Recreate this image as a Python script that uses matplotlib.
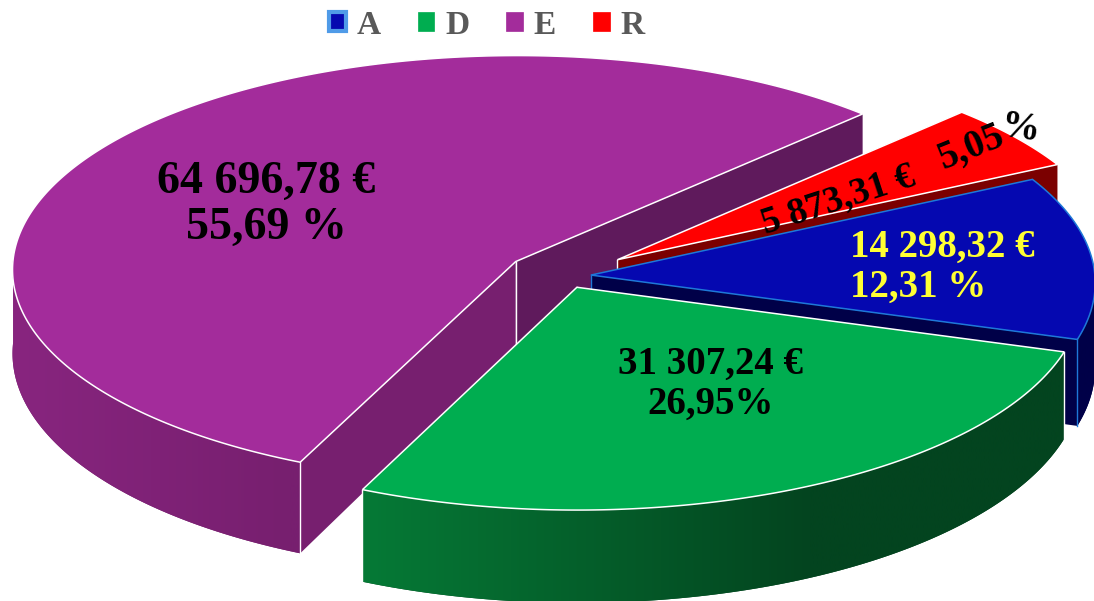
import numpy as np
import matplotlib
matplotlib.use("Agg")
import matplotlib.pyplot as plt
from matplotlib.colors import to_rgb
from matplotlib.patches import Patch, Polygon

categories = ["A", "D", "E", "R"]
amounts = [14298.32, 31307.24, 64696.78, 5873.31]
explode_px = [26, 29, 60, 65]
top_colors = ["#0508B0", "#00AD50", "#A32C9B", "#FF0000"]
first_wall = ["#000048", "#03441F", "#771F6F", "#7B0000"]
last_wall = ["#000048", "#03441F", "#5F1A5C", "#7B0000"]
side_left = ["#000048", "#067A36", "#88257F", "#7B0000"]
side_right = ["#000048", "#03441F", "#771F6F", "#7B0000"]
side_span = [(0, 1094), (360, 810), (12, 290), (0, 1094)]
edge_colors = ["#1E78D8", "#FFFFFF", "#FFFFFF", "#FFFFFF"]
# which rim corners get a bright vertical line (first, last)
corner_lines = [(False, True), (True, True), (True, False), (False, False)]

plt.rcParams["font.family"] = ["Liberation Serif", "DejaVu Sans"]
plt.rcParams["font.weight"] = "bold"

# pie geometry on the page, pixels
cx, cy = 565, 276
f = 504
squash = 0.425
persp = 0.035
depth = 84
start = 27.0


def project(u, v):
    w = 1 + persp * v
    return cx + f * u / w, cy - f * squash * v / w


def thick(v):
    return depth * (1 - 0.1 * v)


fig = plt.figure(figsize=(10.94, 6.01), dpi=100)
ax = fig.add_axes([0, 0, 1, 1])

fracs = np.array(amounts) / sum(amounts)
ends = start - np.cumsum(fracs) * 360
starts = np.r_[start, ends[:-1]]

# back slice first, green last
for i in [2, 3, 0, 1]:
    th = np.radians(np.linspace(starts[i], ends[i], 300))
    mid = np.radians((starts[i] + ends[i]) / 2)
    ou = explode_px[i] / f * np.cos(mid)
    ov = explode_px[i] / f * np.sin(mid)
    vx, vy = project(ou, ov)
    vd = thick(ov)
    rv = ov + np.sin(th)
    rx, ry = project(ou + np.cos(th), rv)
    rd = thick(rv)

    # radial walls
    for k, col in [(-1, last_wall[i]), (0, first_wall[i])]:
        ax.fill([vx, rx[k], rx[k], vx], [vy, ry[k], ry[k] + rd[k], vy + vd],
                color=col, lw=0, zorder=1)
    ax.plot([vx, vx], [vy, vy + vd], color=edge_colors[i], lw=1, zorder=1)

    # outer rim, only the front half of the circle shows
    front = np.sin(th) < 0.02
    if front.any():
        fx, fy, fd = rx[front], ry[front], rd[front]
        rim = Polygon(np.c_[np.r_[fx, fx[::-1]], np.r_[fy, (fy + fd)[::-1]]],
                      facecolor=side_right[i], lw=0, zorder=1)
        ax.add_patch(rim)
        x0, x1 = side_span[i]
        lo = min(x0, fx.min())
        hi = max(x1, fx.max())
        xs = np.linspace(lo, hi, 256)
        t = np.clip((xs - x0) / (x1 - x0), 0, 1)[:, None]
        shade = (1 - t) * np.array(to_rgb(side_left[i])) + t * np.array(to_rgb(side_right[i]))
        im = ax.imshow(shade[None, :, :], extent=[lo, hi, 610, 0], aspect="auto",
                       interpolation="bilinear", zorder=1)
        im.set_clip_path(rim)

    if corner_lines[i][0]:
        ax.plot([rx[0], rx[0]], [ry[0], ry[0] + rd[0]], color=edge_colors[i], lw=1, zorder=1)
    if corner_lines[i][1]:
        ax.plot([rx[-1], rx[-1]], [ry[-1], ry[-1] + rd[-1]], color=edge_colors[i], lw=1, zorder=1)

    ax.fill(np.r_[vx, rx], np.r_[vy, ry], facecolor=top_colors[i],
            edgecolor=edge_colors[i], lw=1.1, joinstyle="miter", zorder=1)

ax.set_xlim(0, 1094)
ax.set_ylim(601, 0)
ax.axis("off")

ax.text(266, 205, "64 696,78 €\n55,69 %", fontsize=33, color="black", ha="center", va="center",
        linespacing=1.1, zorder=5)
ax.text(711, 384, "31 307,24 €\n26,95%", fontsize=28, color="black", ha="center", va="center",
        linespacing=1.1, zorder=5)
ax.text(850, 267, "14 298,32 €\n12,31 %", fontsize=28, color="#FFFF33", ha="left", va="center",
        linespacing=1.1, zorder=5)
ax.text(838, 200, "5 873,31 €", fontsize=27, color="black", rotation=18, ha="center", va="center", zorder=5)
ax.text(971, 148, "5,05", fontsize=28, color="black", rotation=22, ha="center", va="center", zorder=5)
ax.text(1021, 129, "%", fontsize=28, color="black", rotation=-8, ha="center", va="center", zorder=5)

handles = [Patch(facecolor=top_colors[i], edgecolor="#4F9BE8" if i == 0 else top_colors[i],
                 lw=3 if i == 0 else 0.5, label=categories[i]) for i in range(4)]
ax.legend(handles=handles, ncol=4, loc="center", bbox_to_anchor=(487 / 1094, 1 - 25 / 601),
          frameon=False, fontsize=24, labelcolor="#595959", handlelength=0.5, handleheight=0.5,
          handletextpad=0.33, columnspacing=1.1, borderpad=0)

fig.savefig("out.png", dpi=100)
